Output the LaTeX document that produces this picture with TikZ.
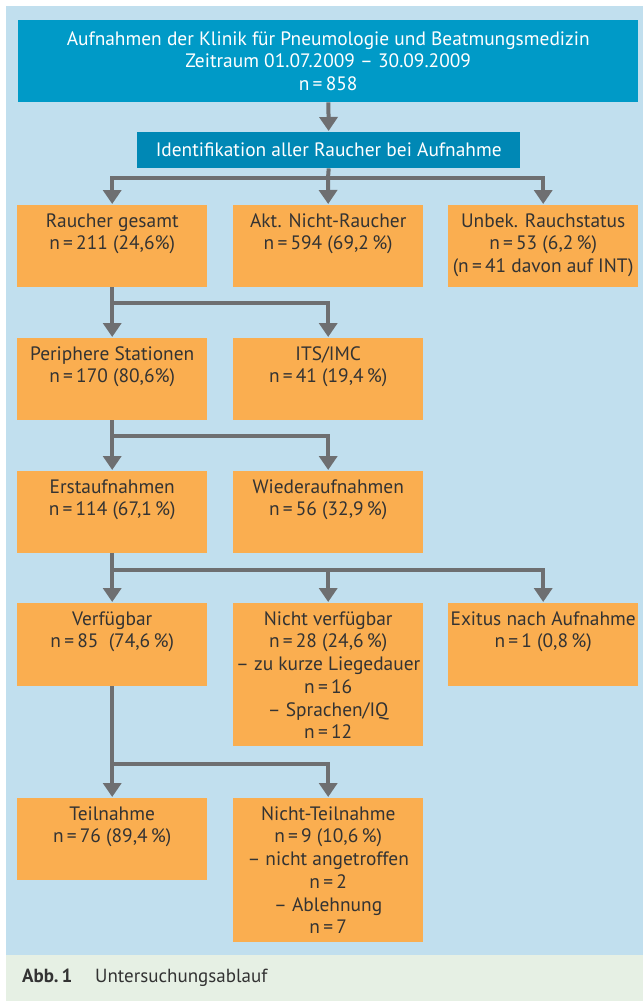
\documentclass[tikz,border=0pt]{standalone}
\usepackage{fontspec}
\setmainfont{PT Sans}
\usetikzlibrary{arrows.meta}
\definecolor{bgblue}{HTML}{C1DFEE}
\definecolor{capgreen}{HTML}{E6F0E4}
\definecolor{topblue}{HTML}{009AC7}
\definecolor{identblue}{HTML}{0088B5}
\definecolor{boxorange}{HTML}{FAAE50}
\definecolor{arrgray}{HTML}{6E6F71}
\definecolor{txt}{HTML}{333333}
\newcommand{\bxt}[3]{\parbox[c][#1][t]{#2}{\centering\rule{0pt}{22pt}#3}}
\tikzset{
  obox/.style={fill=boxorange, inner sep=0pt, anchor=north west, text=txt,
    font=\fontsize{19.4pt}{22.7pt}\selectfont},
  bbox/.style={inner sep=0pt, anchor=north west, text=white, align=center,
    font=\fontsize{19.4pt}{22.7pt}\selectfont},
  conn/.style={draw=arrgray, line width=4pt, line join=miter},
  arr/.style={conn, -{Triangle[width=18pt,length=14pt]}, shorten >=1pt}
}
\begin{document}
\begin{tikzpicture}[x=1pt,y=-1pt]
\useasboundingbox (0,0) rectangle (643,1001);
\fill[bgblue] (6,6) rectangle (643,955);
\fill[capgreen] (6,955) rectangle (643,1001);

\node[bbox, fill=topblue, minimum width=620pt, minimum height=82pt] (top) at (18,20)
  {Aufnahmen der Klinik für Pneumologie und Beatmungsmedizin\\Zeitraum 01.07.2009 – 30.09.2009\\n\,=\,858};
\node[bbox, fill=identblue, minimum width=383pt, minimum height=36pt] (ident) at (137,132)
  {Identifikation aller Raucher bei Aufnahme};

\node[obox] (r1a) at (17,205) {\bxt{82pt}{190pt}{Raucher gesamt\\n\,=\,211 (24,6\%)}};
\node[obox] (r1b) at (233,205) {\bxt{82pt}{190pt}{Akt. Nicht-Raucher\\n\,=\,594 (69,2\,\%)}};
\node[obox] (r1c) at (448,205) {\bxt{82pt}{190pt}{Unbek. Rauchstatus\\n\,=\,53 (6,2\,\%)\\(n\,=\,41 davon auf INT)}};

\node[obox] (r2a) at (17,338) {\bxt{82pt}{190pt}{Periphere Stationen\\n\,=\,170 (80,6\%)}};
\node[obox] (r2b) at (233,338) {\bxt{82pt}{190pt}{ITS/IMC\\n\,=\,41 (19,4\,\%)}};

\node[obox] (r3a) at (17,471) {\bxt{82pt}{190pt}{Erstaufnahmen\\n\,=\,114 (67,1\,\%)}};
\node[obox] (r3b) at (233,471) {\bxt{82pt}{190pt}{Wiederaufnahmen\\n\,=\,56 (32,9\,\%)}};

\node[obox] (r4a) at (17,603) {\bxt{83pt}{190pt}{Verfügbar\\n\,=\,85\ \ (74,6\,\%)}};
\node[obox] (r4b) at (233,603) {\bxt{143pt}{190pt}{Nicht verfügbar\\n\,=\,28 (24,6\,\%)\\– zu kurze Liegedauer\\n\,=\,16\\– Sprachen/IQ\\n\,=\,12}};
\node[obox] (r4c) at (448,603) {\bxt{83pt}{190pt}{Exitus nach Aufnahme\\n\,=\,1 (0,8\,\%)}};

\node[obox] (r5a) at (17,798) {\bxt{82pt}{190pt}{Teilnahme\\n\,=\,76 (89,4\,\%)}};
\node[obox] (r5b) at (233,798) {\bxt{144pt}{190pt}{Nicht-Teilnahme\\n\,=\,9 (10,6\,\%)\\– nicht angetroffen\\n\,=\,2\\– Ablehnung\\n\,=\,7}};

\node[anchor=west, inner sep=0pt, text=txt, font=\fontsize{19pt}{22pt}\selectfont] (cap) at (22,978)
  {\makebox[73pt][l]{\textbf{Abb.\,1}}Untersuchungsablauf};

% connectors
\coordinate (j1) at (328,178);
\coordinate (j2) at (112,303);
\coordinate (j3) at (112,436);
\coordinate (j4) at (112,570);
\coordinate (j5) at (112,764);

\draw[arr] (top) -- (ident);
\draw[conn] (ident.south) -- (j1);
\draw[arr] (j1) -| (r1a.north);
\draw[arr] (j1) -- (r1b.north);
\draw[arr] (j1) -| (r1c.north);

\draw[arr] (r1a.south) -- (r2a.north);
\draw[arr] (j2) -| (r2b.north);

\draw[arr] (r2a.south) -- (r3a.north);
\draw[arr] (j3) -| (r3b.north);

\draw[arr] (r3a.south) -- (r4a.north);
\draw[arr] (j4) -| (r4b.north);
\draw[arr] (j4) -| (r4c.north);

\draw[arr] (r4a.south) -- (r5a.north);
\draw[arr] (j5) -| (r5b.north);
\end{tikzpicture}
\end{document}
